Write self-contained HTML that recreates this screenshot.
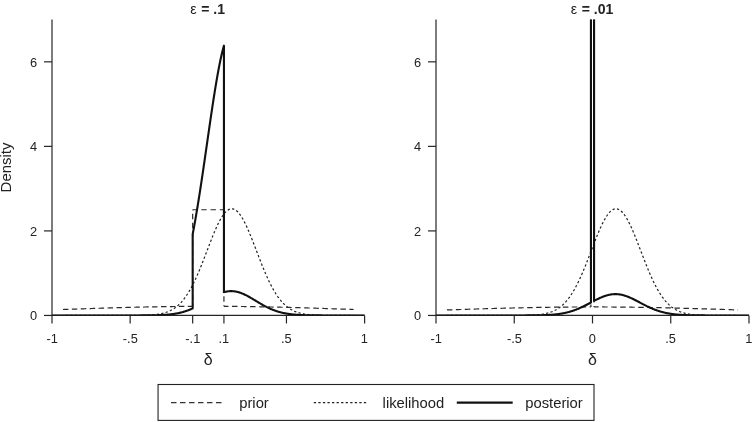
<!DOCTYPE html>
<html><head><meta charset="utf-8"><title>Density</title>
<style>html,body{margin:0;padding:0;background:#fff}svg{display:block}svg text{font-family:"Liberation Sans",sans-serif}</style></head>
<body>
<svg width="752" height="422" viewBox="0 0 752 422">
<rect width="752" height="422" fill="#fff"/>
<defs><clipPath id="c0"><rect x="0" y="19.5" width="752" height="295.95"/></clipPath></defs>
<g stroke="#262626" stroke-width="1.2" fill="none">
<path d="M52.00,19.56 V315.45"/>
<path d="M52.00,315.45 H364.60"/>
<path d="M44.00,315.45 H52.00"/>
<path d="M44.00,230.91 H52.00"/>
<path d="M44.00,146.37 H52.00"/>
<path d="M44.00,61.83 H52.00"/>
<path d="M52.00,315.45 v8"/>
<path d="M130.15,315.45 v8"/>
<path d="M192.67,315.45 v8"/>
<path d="M223.93,315.45 v8"/>
<path d="M286.45,315.45 v8"/>
<path d="M364.60,315.45 v8"/>
</g>
<g font-size="12.8" fill="#222">
<text x="37.10" y="320.30" text-anchor="end">0</text>
<text x="37.10" y="235.76" text-anchor="end">2</text>
<text x="37.10" y="151.22" text-anchor="end">4</text>
<text x="37.10" y="66.68" text-anchor="end">6</text>
<text x="52.15" y="342.7" text-anchor="middle">-1</text>
<text x="130.30" y="342.7" text-anchor="middle">-.5</text>
<text x="192.82" y="342.7" text-anchor="middle">-.1</text>
<text x="223.73" y="342.7" text-anchor="middle">.1</text>
<text x="286.25" y="342.7" text-anchor="middle">.5</text>
<text x="364.40" y="342.7" text-anchor="middle">1</text>
</g>
<text x="208.30" y="365.3" text-anchor="middle" font-size="16" fill="#222">δ</text>
<text y="13.5" fill="#222"><tspan x="190.20" font-size="14.2">ε</tspan><tspan x="201.30" font-size="14" font-weight="bold">= .1</tspan></text>
<g clip-path="url(#c0)" fill="none" stroke="#1a1a1a" stroke-linejoin="round">
<path d="M62.94,309.51 L63.43,309.49 L63.91,309.47 L64.39,309.45 L64.88,309.44 L65.36,309.42 L65.85,309.40 L66.33,309.39 L66.82,309.37 L67.30,309.35 L67.79,309.33 L68.27,309.32 L68.76,309.30 L69.24,309.28 L69.72,309.27 L70.21,309.25 L70.69,309.23 L71.18,309.22 L71.66,309.20 L72.15,309.18 L72.63,309.16 L73.12,309.15 L73.60,309.13 L74.09,309.11 L74.57,309.10 L75.05,309.08 L75.54,309.06 L76.02,309.05 L76.51,309.03 L76.99,309.01 L77.48,309.00 L77.96,308.98 L78.45,308.96 L78.93,308.95 L79.42,308.93 L79.90,308.91 L80.38,308.90 L80.87,308.88 L81.35,308.86 L81.84,308.85 L82.32,308.83 L82.81,308.81 L83.29,308.80 L83.78,308.78 L84.26,308.76 L84.74,308.75 L85.23,308.73 L85.71,308.71 L86.20,308.70 L86.68,308.68 L87.17,308.67 L87.65,308.65 L88.14,308.63 L88.62,308.62 L89.11,308.60 L89.59,308.58 L90.07,308.57 L90.56,308.55 L91.04,308.54 L91.53,308.52 L92.01,308.50 L92.50,308.49 L92.98,308.47 L93.47,308.46 L93.95,308.44 L94.44,308.42 L94.92,308.41 L95.40,308.39 L95.89,308.38 L96.37,308.36 L96.86,308.34 L97.34,308.33 L97.83,308.31 L98.31,308.30 L98.80,308.28 L99.28,308.27 L99.77,308.25 L100.25,308.24 L100.73,308.22 L101.22,308.20 L101.70,308.19 L102.19,308.17 L102.67,308.16 L103.16,308.14 L103.64,308.13 L104.13,308.11 L104.61,308.10 L105.10,308.08 L105.58,308.07 L106.06,308.05 L106.55,308.04 L107.03,308.02 L107.52,308.01 L108.00,307.99 L108.49,307.98 L108.97,307.96 L109.46,307.95 L109.94,307.93 L110.42,307.92 L110.91,307.91 L111.39,307.89 L111.88,307.88 L112.36,307.86 L112.85,307.85 L113.33,307.83 L113.82,307.82 L114.30,307.80 L114.79,307.79 L115.27,307.78 L115.75,307.76 L116.24,307.75 L116.72,307.73 L117.21,307.72 L117.69,307.71 L118.18,307.69 L118.66,307.68 L119.15,307.66 L119.63,307.65 L120.12,307.64 L120.60,307.62 L121.08,307.61 L121.57,307.60 L122.05,307.58 L122.54,307.57 L123.02,307.56 L123.51,307.54 L123.99,307.53 L124.48,307.52 L124.96,307.50 L125.45,307.49 L125.93,307.48 L126.41,307.46 L126.90,307.45 L127.38,307.44 L127.87,307.42 L128.35,307.41 L128.84,307.40 L129.32,307.39 L129.81,307.37 L130.29,307.36 L130.78,307.35 L131.26,307.34 L131.74,307.32 L132.23,307.31 L132.71,307.30 L133.20,307.29 L133.68,307.28 L134.17,307.26 L134.65,307.25 L135.14,307.24 L135.62,307.23 L136.11,307.22 L136.59,307.20 L137.07,307.19 L137.56,307.18 L138.04,307.17 L138.53,307.16 L139.01,307.15 L139.50,307.13 L139.98,307.12 L140.47,307.11 L140.95,307.10 L141.43,307.09 L141.92,307.08 L142.40,307.07 L142.89,307.06 L143.37,307.05 L143.86,307.04 L144.34,307.02 L144.83,307.01 L145.31,307.00 L145.80,306.99 L146.28,306.98 L146.76,306.97 L147.25,306.96 L147.73,306.95 L148.22,306.94 L148.70,306.93 L149.19,306.92 L149.67,306.91 L150.16,306.90 L150.64,306.89 L151.13,306.88 L151.61,306.87 L152.09,306.86 L152.58,306.85 L153.06,306.84 L153.55,306.83 L154.03,306.82 L154.52,306.82 L155.00,306.81 L155.49,306.80 L155.97,306.79 L156.46,306.78 L156.94,306.77 L157.42,306.76 L157.91,306.75 L158.39,306.74 L158.88,306.74 L159.36,306.73 L159.85,306.72 L160.33,306.71 L160.82,306.70 L161.30,306.69 L161.79,306.69 L162.27,306.68 L162.75,306.67 L163.24,306.66 L163.72,306.65 L164.21,306.65 L164.69,306.64 L165.18,306.63 L165.66,306.62 L166.15,306.62 L166.63,306.61 L167.11,306.60 L167.60,306.59 L168.08,306.59 L168.57,306.58 L169.05,306.57 L169.54,306.57 L170.02,306.56 L170.51,306.55 L170.99,306.55 L171.48,306.54 L171.96,306.53 L172.44,306.53 L172.93,306.52 L173.41,306.51 L173.90,306.51 L174.38,306.50 L174.87,306.50 L175.35,306.49 L175.84,306.48 L176.32,306.48 L176.81,306.47 L177.29,306.47 L177.77,306.46 L178.26,306.46 L178.74,306.45 L179.23,306.45 L179.71,306.44 L180.20,306.44 L180.68,306.43 L181.17,306.43 L181.65,306.42 L182.14,306.42 L182.62,306.41 L183.10,306.41 L183.59,306.40 L184.07,306.40 L184.56,306.39 L185.04,306.39 L185.53,306.39 L186.01,306.38 L186.50,306.38 L186.98,306.37 L187.47,306.37 L187.95,306.37 L188.43,306.36 L188.92,306.36 L189.40,306.36 L189.89,306.35 L190.37,306.35 L190.86,306.35 L191.34,306.34 L191.83,306.34 L192.31,306.34 L192.67,306.33" stroke-width="1.2" stroke="#2a2a2a" stroke-dasharray="5.5 3.42"/>
<path d="M192.67,306.33 L192.67,209.77" stroke-width="1.2" stroke="#2a2a2a" stroke-dasharray="5.5 3.5" stroke-dashoffset="3"/>
<path d="M192.67,209.77 L223.93,209.77" stroke-width="1.2" stroke="#2a2a2a" stroke-dasharray="5.4 3.85" stroke-dashoffset="0.65"/>
<path d="M223.93,209.77 L223.93,306.33" stroke-width="1.2" stroke="#2a2a2a" stroke-dasharray="5.5 3.5" stroke-dashoffset="3.44"/>
<path d="M223.93,306.33 L224.29,306.34 L224.77,306.34 L225.26,306.34 L225.74,306.35 L226.23,306.35 L226.71,306.35 L227.20,306.36 L227.68,306.36 L228.17,306.36 L228.65,306.37 L229.13,306.37 L229.62,306.37 L230.10,306.38 L230.59,306.38 L231.07,306.39 L231.56,306.39 L232.04,306.39 L232.53,306.40 L233.01,306.40 L233.50,306.41 L233.98,306.41 L234.46,306.42 L234.95,306.42 L235.43,306.43 L235.92,306.43 L236.40,306.44 L236.89,306.44 L237.37,306.45 L237.86,306.45 L238.34,306.46 L238.83,306.46 L239.31,306.47 L239.79,306.47 L240.28,306.48 L240.76,306.48 L241.25,306.49 L241.73,306.50 L242.22,306.50 L242.70,306.51 L243.19,306.51 L243.67,306.52 L244.16,306.53 L244.64,306.53 L245.12,306.54 L245.61,306.55 L246.09,306.55 L246.58,306.56 L247.06,306.57 L247.55,306.57 L248.03,306.58 L248.52,306.59 L249.00,306.59 L249.49,306.60 L249.97,306.61 L250.45,306.62 L250.94,306.62 L251.42,306.63 L251.91,306.64 L252.39,306.65 L252.88,306.65 L253.36,306.66 L253.85,306.67 L254.33,306.68 L254.81,306.69 L255.30,306.69 L255.78,306.70 L256.27,306.71 L256.75,306.72 L257.24,306.73 L257.72,306.74 L258.21,306.74 L258.69,306.75 L259.18,306.76 L259.66,306.77 L260.14,306.78 L260.63,306.79 L261.11,306.80 L261.60,306.81 L262.08,306.82 L262.57,306.82 L263.05,306.83 L263.54,306.84 L264.02,306.85 L264.51,306.86 L264.99,306.87 L265.47,306.88 L265.96,306.89 L266.44,306.90 L266.93,306.91 L267.41,306.92 L267.90,306.93 L268.38,306.94 L268.87,306.95 L269.35,306.96 L269.84,306.97 L270.32,306.98 L270.80,306.99 L271.29,307.00 L271.77,307.01 L272.26,307.02 L272.74,307.04 L273.23,307.05 L273.71,307.06 L274.20,307.07 L274.68,307.08 L275.17,307.09 L275.65,307.10 L276.13,307.11 L276.62,307.12 L277.10,307.13 L277.59,307.15 L278.07,307.16 L278.56,307.17 L279.04,307.18 L279.53,307.19 L280.01,307.20 L280.49,307.22 L280.98,307.23 L281.46,307.24 L281.95,307.25 L282.43,307.26 L282.92,307.28 L283.40,307.29 L283.89,307.30 L284.37,307.31 L284.86,307.32 L285.34,307.34 L285.82,307.35 L286.31,307.36 L286.79,307.37 L287.28,307.39 L287.76,307.40 L288.25,307.41 L288.73,307.42 L289.22,307.44 L289.70,307.45 L290.19,307.46 L290.67,307.48 L291.15,307.49 L291.64,307.50 L292.12,307.52 L292.61,307.53 L293.09,307.54 L293.58,307.56 L294.06,307.57 L294.55,307.58 L295.03,307.60 L295.52,307.61 L296.00,307.62 L296.48,307.64 L296.97,307.65 L297.45,307.66 L297.94,307.68 L298.42,307.69 L298.91,307.71 L299.39,307.72 L299.88,307.73 L300.36,307.75 L300.85,307.76 L301.33,307.78 L301.81,307.79 L302.30,307.80 L302.78,307.82 L303.27,307.83 L303.75,307.85 L304.24,307.86 L304.72,307.88 L305.21,307.89 L305.69,307.91 L306.18,307.92 L306.66,307.93 L307.14,307.95 L307.63,307.96 L308.11,307.98 L308.60,307.99 L309.08,308.01 L309.57,308.02 L310.05,308.04 L310.54,308.05 L311.02,308.07 L311.50,308.08 L311.99,308.10 L312.47,308.11 L312.96,308.13 L313.44,308.14 L313.93,308.16 L314.41,308.17 L314.90,308.19 L315.38,308.20 L315.87,308.22 L316.35,308.24 L316.83,308.25 L317.32,308.27 L317.80,308.28 L318.29,308.30 L318.77,308.31 L319.26,308.33 L319.74,308.34 L320.23,308.36 L320.71,308.38 L321.20,308.39 L321.68,308.41 L322.16,308.42 L322.65,308.44 L323.13,308.46 L323.62,308.47 L324.10,308.49 L324.59,308.50 L325.07,308.52 L325.56,308.54 L326.04,308.55 L326.53,308.57 L327.01,308.58 L327.49,308.60 L327.98,308.62 L328.46,308.63 L328.95,308.65 L329.43,308.67 L329.92,308.68 L330.40,308.70 L330.89,308.71 L331.37,308.73 L331.86,308.75 L332.34,308.76 L332.82,308.78 L333.31,308.80 L333.79,308.81 L334.28,308.83 L334.76,308.85 L335.25,308.86 L335.73,308.88 L336.22,308.90 L336.70,308.91 L337.18,308.93 L337.67,308.95 L338.15,308.96 L338.64,308.98 L339.12,309.00 L339.61,309.01 L340.09,309.03 L340.58,309.05 L341.06,309.06 L341.55,309.08 L342.03,309.10 L342.51,309.11 L343.00,309.13 L343.48,309.15 L343.97,309.16 L344.45,309.18 L344.94,309.20 L345.42,309.22 L345.91,309.23 L346.39,309.25 L346.88,309.27 L347.36,309.28 L347.84,309.30 L348.33,309.32 L348.81,309.33 L349.30,309.35 L349.78,309.37 L350.27,309.39 L350.75,309.40 L351.24,309.42 L351.72,309.44 L352.21,309.45 L352.69,309.47 L353.17,309.49 L353.66,309.51" stroke-width="1.2" stroke="#2a2a2a" stroke-dasharray="5.5 3.54" stroke-dashoffset="1.0"/>
<path d="M62.94,315.45 L63.43,315.45 L63.91,315.45 L64.39,315.45 L64.88,315.45 L65.36,315.45 L65.85,315.45 L66.33,315.45 L66.82,315.45 L67.30,315.45 L67.79,315.45 L68.27,315.45 L68.76,315.45 L69.24,315.45 L69.72,315.45 L70.21,315.45 L70.69,315.45 L71.18,315.45 L71.66,315.45 L72.15,315.45 L72.63,315.45 L73.12,315.45 L73.60,315.45 L74.09,315.45 L74.57,315.45 L75.05,315.45 L75.54,315.45 L76.02,315.45 L76.51,315.45 L76.99,315.45 L77.48,315.45 L77.96,315.45 L78.45,315.45 L78.93,315.45 L79.42,315.45 L79.90,315.45 L80.38,315.45 L80.87,315.45 L81.35,315.45 L81.84,315.45 L82.32,315.45 L82.81,315.45 L83.29,315.45 L83.78,315.45 L84.26,315.45 L84.74,315.45 L85.23,315.45 L85.71,315.45 L86.20,315.45 L86.68,315.45 L87.17,315.45 L87.65,315.45 L88.14,315.45 L88.62,315.45 L89.11,315.45 L89.59,315.45 L90.07,315.45 L90.56,315.45 L91.04,315.45 L91.53,315.45 L92.01,315.45 L92.50,315.45 L92.98,315.45 L93.47,315.45 L93.95,315.45 L94.44,315.45 L94.92,315.45 L95.40,315.45 L95.89,315.45 L96.37,315.45 L96.86,315.45 L97.34,315.45 L97.83,315.45 L98.31,315.45 L98.80,315.45 L99.28,315.45 L99.77,315.45 L100.25,315.45 L100.73,315.45 L101.22,315.45 L101.70,315.45 L102.19,315.45 L102.67,315.45 L103.16,315.45 L103.64,315.45 L104.13,315.45 L104.61,315.45 L105.10,315.45 L105.58,315.45 L106.06,315.45 L106.55,315.45 L107.03,315.45 L107.52,315.45 L108.00,315.45 L108.49,315.45 L108.97,315.45 L109.46,315.45 L109.94,315.45 L110.42,315.45 L110.91,315.45 L111.39,315.45 L111.88,315.45 L112.36,315.45 L112.85,315.45 L113.33,315.45 L113.82,315.45 L114.30,315.45 L114.79,315.45 L115.27,315.45 L115.75,315.45 L116.24,315.45 L116.72,315.45 L117.21,315.45 L117.69,315.45 L118.18,315.45 L118.66,315.45 L119.15,315.45 L119.63,315.45 L120.12,315.45 L120.60,315.45 L121.08,315.45 L121.57,315.44 L122.05,315.44 L122.54,315.44 L123.02,315.44 L123.51,315.44 L123.99,315.44 L124.48,315.44 L124.96,315.44 L125.45,315.44 L125.93,315.44 L126.41,315.44 L126.90,315.44 L127.38,315.44 L127.87,315.43 L128.35,315.43 L128.84,315.43 L129.32,315.43 L129.81,315.43 L130.29,315.43 L130.78,315.42 L131.26,315.42 L131.74,315.42 L132.23,315.42 L132.71,315.42 L133.20,315.41 L133.68,315.41 L134.17,315.41 L134.65,315.40 L135.14,315.40 L135.62,315.39 L136.11,315.39 L136.59,315.39 L137.07,315.38 L137.56,315.38 L138.04,315.37 L138.53,315.36 L139.01,315.36 L139.50,315.35 L139.98,315.34 L140.47,315.33 L140.95,315.32 L141.43,315.32 L141.92,315.31 L142.40,315.30 L142.89,315.28 L143.37,315.27 L143.86,315.26 L144.34,315.24 L144.83,315.23 L145.31,315.21 L145.80,315.20 L146.28,315.18 L146.76,315.16 L147.25,315.14 L147.73,315.12 L148.22,315.10 L148.70,315.07 L149.19,315.05 L149.67,315.02 L150.16,314.99 L150.64,314.96 L151.13,314.93 L151.61,314.89 L152.09,314.86 L152.58,314.82 L153.06,314.78 L153.55,314.74 L154.03,314.69 L154.52,314.64 L155.00,314.59 L155.49,314.54 L155.97,314.48 L156.46,314.42 L156.94,314.36 L157.42,314.29 L157.91,314.22 L158.39,314.15 L158.88,314.07 L159.36,313.99 L159.85,313.90 L160.33,313.81 L160.82,313.72 L161.30,313.62 L161.79,313.51 L162.27,313.40 L162.75,313.28 L163.24,313.16 L163.72,313.04 L164.21,312.90 L164.69,312.76 L165.18,312.62 L165.66,312.46 L166.15,312.30 L166.63,312.13 L167.11,311.96 L167.60,311.78 L168.08,311.59 L168.57,311.39 L169.05,311.18 L169.54,310.96 L170.02,310.74 L170.51,310.50 L170.99,310.25 L171.48,310.00 L171.96,309.73 L172.44,309.46 L172.93,309.17 L173.41,308.87 L173.90,308.56 L174.38,308.24 L174.87,307.90 L175.35,307.56 L175.84,307.20 L176.32,306.82 L176.81,306.44 L177.29,306.04 L177.77,305.62 L178.26,305.20 L178.74,304.75 L179.23,304.30 L179.71,303.83 L180.20,303.34 L180.68,302.83 L181.17,302.32 L181.65,301.78 L182.14,301.23 L182.62,300.66 L183.10,300.08 L183.59,299.47 L184.07,298.86 L184.56,298.22 L185.04,297.57 L185.53,296.89 L186.01,296.20 L186.50,295.50 L186.98,294.77 L187.47,294.03 L187.95,293.27 L188.43,292.49 L188.92,291.69 L189.40,290.87 L189.89,290.04 L190.37,289.18 L190.86,288.31 L191.34,287.42 L191.83,286.52 L192.31,285.59 L192.80,284.65 L193.28,283.69 L193.76,282.71 L194.25,281.71 L194.73,280.70 L195.22,279.67 L195.70,278.63 L196.19,277.57 L196.67,276.49 L197.16,275.40 L197.64,274.29 L198.12,273.17 L198.61,272.04 L199.09,270.89 L199.58,269.73 L200.06,268.56 L200.55,267.37 L201.03,266.18 L201.52,264.97 L202.00,263.76 L202.49,262.53 L202.97,261.30 L203.45,260.06 L203.94,258.82 L204.42,257.56 L204.91,256.31 L205.39,255.05 L205.88,253.78 L206.36,252.51 L206.85,251.25 L207.33,249.98 L207.82,248.71 L208.30,247.45 L208.78,246.18 L209.27,244.92 L209.75,243.67 L210.24,242.42 L210.72,241.18 L211.21,239.94 L211.69,238.71 L212.18,237.50 L212.66,236.29 L213.15,235.10 L213.63,233.92 L214.11,232.76 L214.60,231.61 L215.08,230.48 L215.57,229.37 L216.05,228.27 L216.54,227.19 L217.02,226.14 L217.51,225.11 L217.99,224.10 L218.48,223.12 L218.96,222.16 L219.44,221.22 L219.93,220.32 L220.41,219.44 L220.90,218.59 L221.38,217.77 L221.87,216.99 L222.35,216.23 L222.84,215.51 L223.32,214.82 L223.80,214.16 L224.29,213.54 L224.77,212.96 L225.26,212.41 L225.74,211.90 L226.23,211.42 L226.71,210.99 L227.20,210.59 L227.68,210.23 L228.17,209.91 L228.65,209.63 L229.13,209.39 L229.62,209.19 L230.10,209.03 L230.59,208.91 L231.07,208.84 L231.56,208.80 L232.04,208.80 L232.53,208.85 L233.01,208.94 L233.50,209.06 L233.98,209.23 L234.46,209.44 L234.95,209.69 L235.43,209.98 L235.92,210.31 L236.40,210.67 L236.89,211.08 L237.37,211.53 L237.86,212.01 L238.34,212.53 L238.83,213.09 L239.31,213.68 L239.79,214.31 L240.28,214.97 L240.76,215.67 L241.25,216.40 L241.73,217.16 L242.22,217.96 L242.70,218.78 L243.19,219.64 L243.67,220.52 L244.16,221.43 L244.64,222.37 L245.12,223.34 L245.61,224.33 L246.09,225.34 L246.58,226.38 L247.06,227.44 L247.55,228.52 L248.03,229.62 L248.52,230.73 L249.00,231.87 L249.49,233.02 L249.97,234.19 L250.45,235.37 L250.94,236.57 L251.42,237.77 L251.91,238.99 L252.39,240.22 L252.88,241.45 L253.36,242.70 L253.85,243.95 L254.33,245.21 L254.81,246.47 L255.30,247.73 L255.78,249.00 L256.27,250.27 L256.75,251.53 L257.24,252.80 L257.72,254.07 L258.21,255.33 L258.69,256.59 L259.18,257.85 L259.66,259.10 L260.14,260.34 L260.63,261.58 L261.11,262.81 L261.60,264.03 L262.08,265.25 L262.57,266.45 L263.05,267.64 L263.54,268.82 L264.02,269.99 L264.51,271.15 L264.99,272.30 L265.47,273.43 L265.96,274.55 L266.44,275.65 L266.93,276.74 L267.41,277.81 L267.90,278.87 L268.38,279.91 L268.87,280.93 L269.35,281.94 L269.84,282.93 L270.32,283.91 L270.80,284.86 L271.29,285.80 L271.77,286.72 L272.26,287.63 L272.74,288.51 L273.23,289.38 L273.71,290.23 L274.20,291.06 L274.68,291.87 L275.17,292.66 L275.65,293.44 L276.13,294.20 L276.62,294.94 L277.10,295.66 L277.59,296.36 L278.07,297.05 L278.56,297.71 L279.04,298.36 L279.53,299.00 L280.01,299.61 L280.49,300.21 L280.98,300.79 L281.46,301.35 L281.95,301.90 L282.43,302.43 L282.92,302.95 L283.40,303.45 L283.89,303.93 L284.37,304.40 L284.86,304.86 L285.34,305.29 L285.82,305.72 L286.31,306.13 L286.79,306.53 L287.28,306.91 L287.76,307.28 L288.25,307.64 L288.73,307.98 L289.22,308.31 L289.70,308.63 L290.19,308.94 L290.67,309.23 L291.15,309.52 L291.64,309.79 L292.12,310.06 L292.61,310.31 L293.09,310.55 L293.58,310.79 L294.06,311.01 L294.55,311.23 L295.03,311.43 L295.52,311.63 L296.00,311.82 L296.48,312.00 L296.97,312.17 L297.45,312.34 L297.94,312.50 L298.42,312.65 L298.91,312.79 L299.39,312.93 L299.88,313.06 L300.36,313.19 L300.85,313.31 L301.33,313.43 L301.81,313.53 L302.30,313.64 L302.78,313.74 L303.27,313.83 L303.75,313.92 L304.24,314.01 L304.72,314.09 L305.21,314.16 L305.69,314.24 L306.18,314.31 L306.66,314.37 L307.14,314.43 L307.63,314.49 L308.11,314.55 L308.60,314.60 L309.08,314.65 L309.57,314.70 L310.05,314.75 L310.54,314.79 L311.02,314.83 L311.50,314.87 L311.99,314.90 L312.47,314.94 L312.96,314.97 L313.44,315.00 L313.93,315.03 L314.41,315.05 L314.90,315.08 L315.38,315.10 L315.87,315.12 L316.35,315.15 L316.83,315.17 L317.32,315.18 L317.80,315.20 L318.29,315.22 L318.77,315.23 L319.26,315.25 L319.74,315.26 L320.23,315.27 L320.71,315.29 L321.20,315.30 L321.68,315.31 L322.16,315.32 L322.65,315.33 L323.13,315.34 L323.62,315.34 L324.10,315.35 L324.59,315.36 L325.07,315.36 L325.56,315.37 L326.04,315.38 L326.53,315.38 L327.01,315.39 L327.49,315.39 L327.98,315.40 L328.46,315.40 L328.95,315.40 L329.43,315.41 L329.92,315.41 L330.40,315.41 L330.89,315.42 L331.37,315.42 L331.86,315.42 L332.34,315.42 L332.82,315.43 L333.31,315.43 L333.79,315.43 L334.28,315.43 L334.76,315.43 L335.25,315.43 L335.73,315.43 L336.22,315.44 L336.70,315.44 L337.18,315.44 L337.67,315.44 L338.15,315.44 L338.64,315.44 L339.12,315.44 L339.61,315.44 L340.09,315.44 L340.58,315.44 L341.06,315.44 L341.55,315.44 L342.03,315.44 L342.51,315.45 L343.00,315.45 L343.48,315.45 L343.97,315.45 L344.45,315.45 L344.94,315.45 L345.42,315.45 L345.91,315.45 L346.39,315.45 L346.88,315.45 L347.36,315.45 L347.84,315.45 L348.33,315.45 L348.81,315.45 L349.30,315.45 L349.78,315.45 L350.27,315.45 L350.75,315.45 L351.24,315.45 L351.72,315.45 L352.21,315.45 L352.69,315.45 L353.17,315.45 L353.66,315.45" stroke-width="1.2" stroke-dasharray="2.3 2.25" stroke-dashoffset="1.75" stroke="#222"/>
<path d="M52.00,315.45 L52.49,315.45 L52.98,315.45 L53.47,315.45 L53.95,315.45 L54.44,315.45 L54.93,315.45 L55.42,315.45 L55.91,315.45 L56.40,315.45 L56.88,315.45 L57.37,315.45 L57.86,315.45 L58.35,315.45 L58.84,315.45 L59.33,315.45 L59.81,315.45 L60.30,315.45 L60.79,315.45 L61.28,315.45 L61.77,315.45 L62.26,315.45 L62.75,315.45 L63.23,315.45 L63.72,315.45 L64.21,315.45 L64.70,315.45 L65.19,315.45 L65.68,315.45 L66.16,315.45 L66.65,315.45 L67.14,315.45 L67.63,315.45 L68.12,315.45 L68.61,315.45 L69.10,315.45 L69.58,315.45 L70.07,315.45 L70.56,315.45 L71.05,315.45 L71.54,315.45 L72.03,315.45 L72.51,315.45 L73.00,315.45 L73.49,315.45 L73.98,315.45 L74.47,315.45 L74.96,315.45 L75.44,315.45 L75.93,315.45 L76.42,315.45 L76.91,315.45 L77.40,315.45 L77.89,315.45 L78.38,315.45 L78.86,315.45 L79.35,315.45 L79.84,315.45 L80.33,315.45 L80.82,315.45 L81.31,315.45 L81.79,315.45 L82.28,315.45 L82.77,315.45 L83.26,315.45 L83.75,315.45 L84.24,315.45 L84.73,315.45 L85.21,315.45 L85.70,315.45 L86.19,315.45 L86.68,315.45 L87.17,315.45 L87.66,315.45 L88.14,315.45 L88.63,315.45 L89.12,315.45 L89.61,315.45 L90.10,315.45 L90.59,315.45 L91.08,315.45 L91.56,315.45 L92.05,315.45 L92.54,315.45 L93.03,315.45 L93.52,315.45 L94.01,315.45 L94.49,315.45 L94.98,315.45 L95.47,315.45 L95.96,315.45 L96.45,315.45 L96.94,315.45 L97.42,315.45 L97.91,315.45 L98.40,315.45 L98.89,315.45 L99.38,315.45 L99.87,315.45 L100.36,315.45 L100.84,315.45 L101.33,315.45 L101.82,315.45 L102.31,315.45 L102.80,315.45 L103.29,315.45 L103.77,315.45 L104.26,315.45 L104.75,315.45 L105.24,315.45 L105.73,315.45 L106.22,315.45 L106.71,315.45 L107.19,315.45 L107.68,315.45 L108.17,315.45 L108.66,315.45 L109.15,315.45 L109.64,315.45 L110.12,315.45 L110.61,315.45 L111.10,315.45 L111.59,315.45 L112.08,315.45 L112.57,315.45 L113.05,315.45 L113.54,315.45 L114.03,315.45 L114.52,315.45 L115.01,315.45 L115.50,315.45 L115.99,315.45 L116.47,315.45 L116.96,315.45 L117.45,315.45 L117.94,315.45 L118.43,315.45 L118.92,315.45 L119.40,315.45 L119.89,315.45 L120.38,315.45 L120.87,315.45 L121.36,315.45 L121.85,315.45 L122.33,315.45 L122.82,315.45 L123.31,315.45 L123.80,315.45 L124.29,315.45 L124.78,315.45 L125.27,315.45 L125.75,315.45 L126.24,315.45 L126.73,315.45 L127.22,315.45 L127.71,315.45 L128.20,315.45 L128.68,315.45 L129.17,315.45 L129.66,315.45 L130.15,315.45 L130.64,315.44 L131.13,315.44 L131.62,315.44 L132.10,315.44 L132.59,315.44 L133.08,315.44 L133.57,315.44 L134.06,315.44 L134.55,315.44 L135.03,315.44 L135.52,315.44 L136.01,315.44 L136.50,315.44 L136.99,315.44 L137.48,315.43 L137.97,315.43 L138.45,315.43 L138.94,315.43 L139.43,315.43 L139.92,315.43 L140.41,315.43 L140.90,315.42 L141.38,315.42 L141.87,315.42 L142.36,315.42 L142.85,315.42 L143.34,315.41 L143.83,315.41 L144.31,315.41 L144.80,315.40 L145.29,315.40 L145.78,315.40 L146.27,315.39 L146.76,315.39 L147.25,315.38 L147.73,315.38 L148.22,315.37 L148.71,315.37 L149.20,315.36 L149.69,315.36 L150.18,315.35 L150.66,315.34 L151.15,315.34 L151.64,315.33 L152.13,315.32 L152.62,315.31 L153.11,315.30 L153.60,315.29 L154.08,315.28 L154.57,315.27 L155.06,315.26 L155.55,315.25 L156.04,315.24 L156.53,315.22 L157.01,315.21 L157.50,315.19 L157.99,315.18 L158.48,315.16 L158.97,315.14 L159.46,315.13 L159.94,315.11 L160.43,315.09 L160.92,315.06 L161.41,315.04 L161.90,315.02 L162.39,314.99 L162.88,314.96 L163.36,314.94 L163.85,314.91 L164.34,314.88 L164.83,314.84 L165.32,314.81 L165.81,314.78 L166.29,314.74 L166.78,314.70 L167.27,314.66 L167.76,314.62 L168.25,314.57 L168.74,314.53 L169.23,314.48 L169.71,314.43 L170.20,314.38 L170.69,314.32 L171.18,314.26 L171.67,314.20 L172.16,314.14 L172.64,314.08 L173.13,314.01 L173.62,313.94 L174.11,313.87 L174.60,313.79 L175.09,313.71 L175.57,313.63 L176.06,313.55 L176.55,313.46 L177.04,313.37 L177.53,313.28 L178.02,313.18 L178.51,313.08 L178.99,312.97 L179.48,312.87 L179.97,312.76 L180.46,312.64 L180.95,312.52 L181.44,312.40 L181.92,312.27 L182.41,312.14 L182.90,312.01 L183.39,311.87 L183.88,311.73 L184.37,311.58 L184.86,311.43 L185.34,311.28 L185.83,311.12 L186.32,310.95 L186.81,310.79 L187.30,310.62 L187.79,310.44 L188.27,310.26 L188.76,310.07 L189.25,309.89 L189.74,309.69 L190.23,309.49 L190.72,309.29 L191.20,309.09 L191.69,308.88 L192.18,308.66 L192.67,308.44 L192.67,234.20 L192.67,234.20 L192.83,233.38 L192.98,232.56 L193.14,231.74 L193.30,230.91 L193.45,230.08 L193.61,229.24 L193.76,228.39 L193.92,227.54 L194.08,226.69 L194.23,225.83 L194.39,224.97 L194.55,224.10 L194.70,223.23 L194.86,222.36 L195.01,221.47 L195.17,220.59 L195.33,219.70 L195.48,218.80 L195.64,217.90 L195.80,217.00 L195.95,216.09 L196.11,215.18 L196.26,214.26 L196.42,213.34 L196.58,212.42 L196.73,211.49 L196.89,210.56 L197.05,209.62 L197.20,208.68 L197.36,207.73 L197.52,206.78 L197.67,205.83 L197.83,204.87 L197.98,203.91 L198.14,202.94 L198.30,201.97 L198.45,201.00 L198.61,200.02 L198.77,199.04 L198.92,198.06 L199.08,197.07 L199.23,196.08 L199.39,195.08 L199.55,194.08 L199.70,193.08 L199.86,192.08 L200.02,191.07 L200.17,190.06 L200.33,189.04 L200.49,188.02 L200.64,187.00 L200.80,185.98 L200.95,184.95 L201.11,183.92 L201.27,182.89 L201.42,181.85 L201.58,180.82 L201.74,179.78 L201.89,178.73 L202.05,177.69 L202.20,176.64 L202.36,175.59 L202.52,174.54 L202.67,173.48 L202.83,172.42 L202.99,171.36 L203.14,170.30 L203.30,169.24 L203.45,168.17 L203.61,167.11 L203.77,166.04 L203.92,164.97 L204.08,163.89 L204.24,162.82 L204.39,161.74 L204.55,160.67 L204.71,159.59 L204.86,158.51 L205.02,157.43 L205.17,156.35 L205.33,155.27 L205.49,154.18 L205.64,153.10 L205.80,152.01 L205.96,150.93 L206.11,149.84 L206.27,148.76 L206.42,147.67 L206.58,146.58 L206.74,145.49 L206.89,144.41 L207.05,143.32 L207.21,142.23 L207.36,141.14 L207.52,140.06 L207.67,138.97 L207.83,137.88 L207.99,136.79 L208.14,135.71 L208.30,134.62 L208.46,133.54 L208.61,132.46 L208.77,131.37 L208.93,130.29 L209.08,129.21 L209.24,128.13 L209.39,127.05 L209.55,125.98 L209.71,124.90 L209.86,123.83 L210.02,122.75 L210.18,121.68 L210.33,120.61 L210.49,119.55 L210.64,118.48 L210.80,117.42 L210.96,116.36 L211.11,115.30 L211.27,114.25 L211.43,113.19 L211.58,112.14 L211.74,111.10 L211.89,110.05 L212.05,109.01 L212.21,107.97 L212.36,106.93 L212.52,105.90 L212.68,104.87 L212.83,103.85 L212.99,102.82 L213.15,101.80 L213.30,100.79 L213.46,99.78 L213.61,98.77 L213.77,97.77 L213.93,96.77 L214.08,95.77 L214.24,94.78 L214.40,93.80 L214.55,92.81 L214.71,91.84 L214.86,90.86 L215.02,89.90 L215.18,88.93 L215.33,87.98 L215.49,87.02 L215.65,86.08 L215.80,85.13 L215.96,84.20 L216.12,83.26 L216.27,82.34 L216.43,81.42 L216.58,80.50 L216.74,79.60 L216.90,78.69 L217.05,77.80 L217.21,76.91 L217.37,76.02 L217.52,75.14 L217.68,74.27 L217.83,73.41 L217.99,72.55 L218.15,71.70 L218.30,70.85 L218.46,70.01 L218.62,69.18 L218.77,68.36 L218.93,67.54 L219.08,66.73 L219.24,65.93 L219.40,65.14 L219.55,64.35 L219.71,63.57 L219.87,62.80 L220.02,62.03 L220.18,61.28 L220.34,60.53 L220.49,59.79 L220.65,59.06 L220.80,58.33 L220.96,57.62 L221.12,56.91 L221.27,56.21 L221.43,55.52 L221.59,54.84 L221.74,54.16 L221.90,53.50 L222.05,52.84 L222.21,52.20 L222.37,51.56 L222.52,50.93 L222.68,50.31 L222.84,49.70 L222.99,49.10 L223.15,48.51 L223.30,47.92 L223.46,47.35 L223.62,46.79 L223.77,46.23 L223.93,45.69 L223.93,45.69 L223.93,292.18 L223.93,292.18 L224.42,292.05 L224.91,291.92 L225.40,291.80 L225.88,291.70 L226.37,291.60 L226.86,291.51 L227.35,291.43 L227.84,291.36 L228.33,291.30 L228.81,291.25 L229.30,291.20 L229.79,291.17 L230.28,291.15 L230.77,291.14 L231.26,291.13 L231.75,291.14 L232.23,291.16 L232.72,291.18 L233.21,291.22 L233.70,291.26 L234.19,291.32 L234.68,291.38 L235.16,291.46 L235.65,291.54 L236.14,291.63 L236.63,291.73 L237.12,291.84 L237.61,291.96 L238.09,292.09 L238.58,292.23 L239.07,292.37 L239.56,292.53 L240.05,292.69 L240.54,292.86 L241.03,293.03 L241.51,293.22 L242.00,293.41 L242.49,293.61 L242.98,293.82 L243.47,294.03 L243.96,294.25 L244.44,294.47 L244.93,294.70 L245.42,294.94 L245.91,295.18 L246.40,295.43 L246.89,295.68 L247.38,295.94 L247.86,296.20 L248.35,296.47 L248.84,296.74 L249.33,297.01 L249.82,297.28 L250.31,297.56 L250.79,297.85 L251.28,298.13 L251.77,298.42 L252.26,298.71 L252.75,299.00 L253.24,299.29 L253.72,299.58 L254.21,299.87 L254.70,300.17 L255.19,300.46 L255.68,300.76 L256.17,301.05 L256.66,301.35 L257.14,301.64 L257.63,301.94 L258.12,302.23 L258.61,302.52 L259.10,302.81 L259.59,303.10 L260.07,303.39 L260.56,303.67 L261.05,303.95 L261.54,304.23 L262.03,304.51 L262.52,304.79 L263.01,305.06 L263.49,305.33 L263.98,305.60 L264.47,305.86 L264.96,306.12 L265.45,306.38 L265.94,306.63 L266.42,306.88 L266.91,307.12 L267.40,307.37 L267.89,307.60 L268.38,307.84 L268.87,308.07 L269.35,308.29 L269.84,308.52 L270.33,308.73 L270.82,308.95 L271.31,309.16 L271.80,309.36 L272.29,309.56 L272.77,309.76 L273.26,309.95 L273.75,310.14 L274.24,310.32 L274.73,310.50 L275.22,310.67 L275.70,310.84 L276.19,311.01 L276.68,311.17 L277.17,311.33 L277.66,311.48 L278.15,311.63 L278.64,311.78 L279.12,311.92 L279.61,312.05 L280.10,312.19 L280.59,312.32 L281.08,312.44 L281.57,312.56 L282.05,312.68 L282.54,312.79 L283.03,312.90 L283.52,313.01 L284.01,313.11 L284.50,313.21 L284.98,313.31 L285.47,313.40 L285.96,313.49 L286.45,313.58 L286.94,313.66 L287.43,313.74 L287.92,313.82 L288.40,313.89 L288.89,313.96 L289.38,314.03 L289.87,314.10 L290.36,314.16 L290.85,314.22 L291.33,314.28 L291.82,314.34 L292.31,314.39 L292.80,314.45 L293.29,314.50 L293.78,314.54 L294.27,314.59 L294.75,314.63 L295.24,314.67 L295.73,314.71 L296.22,314.75 L296.71,314.79 L297.20,314.82 L297.68,314.86 L298.17,314.89 L298.66,314.92 L299.15,314.95 L299.64,314.97 L300.13,315.00 L300.61,315.02 L301.10,315.05 L301.59,315.07 L302.08,315.09 L302.57,315.11 L303.06,315.13 L303.55,315.15 L304.03,315.17 L304.52,315.18 L305.01,315.20 L305.50,315.21 L305.99,315.23 L306.48,315.24 L306.96,315.25 L307.45,315.27 L307.94,315.28 L308.43,315.29 L308.92,315.30 L309.41,315.31 L309.90,315.32 L310.38,315.32 L310.87,315.33 L311.36,315.34 L311.85,315.35 L312.34,315.35 L312.83,315.36 L313.31,315.37 L313.80,315.37 L314.29,315.38 L314.78,315.38 L315.27,315.39 L315.76,315.39 L316.24,315.39 L316.73,315.40 L317.22,315.40 L317.71,315.40 L318.20,315.41 L318.69,315.41 L319.18,315.41 L319.66,315.42 L320.15,315.42 L320.64,315.42 L321.13,315.42 L321.62,315.42 L322.11,315.43 L322.59,315.43 L323.08,315.43 L323.57,315.43 L324.06,315.43 L324.55,315.43 L325.04,315.44 L325.53,315.44 L326.01,315.44 L326.50,315.44 L326.99,315.44 L327.48,315.44 L327.97,315.44 L328.46,315.44 L328.94,315.44 L329.43,315.44 L329.92,315.44 L330.41,315.44 L330.90,315.44 L331.39,315.44 L331.87,315.45 L332.36,315.45 L332.85,315.45 L333.34,315.45 L333.83,315.45 L334.32,315.45 L334.81,315.45 L335.29,315.45 L335.78,315.45 L336.27,315.45 L336.76,315.45 L337.25,315.45 L337.74,315.45 L338.22,315.45 L338.71,315.45 L339.20,315.45 L339.69,315.45 L340.18,315.45 L340.67,315.45 L341.16,315.45 L341.64,315.45 L342.13,315.45 L342.62,315.45 L343.11,315.45 L343.60,315.45 L344.09,315.45 L344.57,315.45 L345.06,315.45 L345.55,315.45 L346.04,315.45 L346.53,315.45 L347.02,315.45 L347.50,315.45 L347.99,315.45 L348.48,315.45 L348.97,315.45 L349.46,315.45 L349.95,315.45 L350.44,315.45 L350.92,315.45 L351.41,315.45 L351.90,315.45 L352.39,315.45 L352.88,315.45 L353.37,315.45 L353.85,315.45 L354.34,315.45 L354.83,315.45 L355.32,315.45 L355.81,315.45 L356.30,315.45 L356.79,315.45 L357.27,315.45 L357.76,315.45 L358.25,315.45 L358.74,315.45 L359.23,315.45 L359.72,315.45 L360.20,315.45 L360.69,315.45 L361.18,315.45 L361.67,315.45 L362.16,315.45 L362.65,315.45 L363.13,315.45 L363.62,315.45 L364.11,315.45 L364.60,315.45" stroke-width="2.1" stroke="#111" stroke-linejoin="round"/>
</g>
<g stroke="#262626" stroke-width="1.2" fill="none">
<path d="M436.00,19.56 V315.45"/>
<path d="M436.00,315.45 H749.00"/>
<path d="M428.00,315.45 H436.00"/>
<path d="M428.00,230.91 H436.00"/>
<path d="M428.00,146.37 H436.00"/>
<path d="M428.00,61.83 H436.00"/>
<path d="M436.00,315.45 v8"/>
<path d="M514.25,315.45 v8"/>
<path d="M592.50,315.45 v8"/>
<path d="M670.75,315.45 v8"/>
<path d="M749.00,315.45 v8"/>
</g>
<g font-size="12.8" fill="#222">
<text x="421.10" y="320.30" text-anchor="end">0</text>
<text x="421.10" y="235.76" text-anchor="end">2</text>
<text x="421.10" y="151.22" text-anchor="end">4</text>
<text x="421.10" y="66.68" text-anchor="end">6</text>
<text x="436.15" y="342.7" text-anchor="middle">-1</text>
<text x="514.40" y="342.7" text-anchor="middle">-.5</text>
<text x="592.30" y="342.7" text-anchor="middle">0</text>
<text x="670.55" y="342.7" text-anchor="middle">.5</text>
<text x="748.80" y="342.7" text-anchor="middle">1</text>
</g>
<text x="592.50" y="365.3" text-anchor="middle" font-size="16" fill="#222">δ</text>
<text y="13.5" fill="#222"><tspan x="570.70" font-size="14.2">ε</tspan><tspan x="581.80" font-size="14" font-weight="bold">= .01</tspan></text>
<g clip-path="url(#c0)" fill="none" stroke="#1a1a1a" stroke-linejoin="round">
<path d="M446.95,309.93 L447.44,309.92 L447.93,309.90 L448.41,309.89 L448.90,309.87 L449.38,309.86 L449.87,309.84 L450.35,309.82 L450.84,309.81 L451.32,309.79 L451.81,309.78 L452.29,309.76 L452.78,309.74 L453.26,309.73 L453.75,309.71 L454.23,309.70 L454.72,309.68 L455.20,309.67 L455.69,309.65 L456.17,309.63 L456.66,309.62 L457.14,309.60 L457.63,309.59 L458.11,309.57 L458.60,309.56 L459.08,309.54 L459.57,309.52 L460.05,309.51 L460.54,309.49 L461.02,309.48 L461.51,309.46 L461.99,309.45 L462.48,309.43 L462.96,309.42 L463.45,309.40 L463.94,309.38 L464.42,309.37 L464.91,309.35 L465.39,309.34 L465.88,309.32 L466.36,309.31 L466.85,309.29 L467.33,309.28 L467.82,309.26 L468.30,309.25 L468.79,309.23 L469.27,309.22 L469.76,309.20 L470.24,309.19 L470.73,309.17 L471.21,309.16 L471.70,309.14 L472.18,309.13 L472.67,309.11 L473.15,309.10 L473.64,309.08 L474.12,309.07 L474.61,309.05 L475.09,309.04 L475.58,309.02 L476.06,309.01 L476.55,308.99 L477.03,308.98 L477.52,308.96 L478.00,308.95 L478.49,308.93 L478.97,308.92 L479.46,308.90 L479.95,308.89 L480.43,308.87 L480.92,308.86 L481.40,308.84 L481.89,308.83 L482.37,308.81 L482.86,308.80 L483.34,308.79 L483.83,308.77 L484.31,308.76 L484.80,308.74 L485.28,308.73 L485.77,308.71 L486.25,308.70 L486.74,308.69 L487.22,308.67 L487.71,308.66 L488.19,308.64 L488.68,308.63 L489.16,308.62 L489.65,308.60 L490.13,308.59 L490.62,308.57 L491.10,308.56 L491.59,308.55 L492.07,308.53 L492.56,308.52 L493.04,308.50 L493.53,308.49 L494.01,308.48 L494.50,308.46 L494.98,308.45 L495.47,308.44 L495.96,308.42 L496.44,308.41 L496.93,308.40 L497.41,308.38 L497.90,308.37 L498.38,308.36 L498.87,308.34 L499.35,308.33 L499.84,308.32 L500.32,308.30 L500.81,308.29 L501.29,308.28 L501.78,308.27 L502.26,308.25 L502.75,308.24 L503.23,308.23 L503.72,308.21 L504.20,308.20 L504.69,308.19 L505.17,308.18 L505.66,308.16 L506.14,308.15 L506.63,308.14 L507.11,308.13 L507.60,308.11 L508.08,308.10 L508.57,308.09 L509.05,308.08 L509.54,308.06 L510.02,308.05 L510.51,308.04 L510.99,308.03 L511.48,308.02 L511.97,308.00 L512.45,307.99 L512.94,307.98 L513.42,307.97 L513.91,307.96 L514.39,307.95 L514.88,307.93 L515.36,307.92 L515.85,307.91 L516.33,307.90 L516.82,307.89 L517.30,307.88 L517.79,307.87 L518.27,307.85 L518.76,307.84 L519.24,307.83 L519.73,307.82 L520.21,307.81 L520.70,307.80 L521.18,307.79 L521.67,307.78 L522.15,307.77 L522.64,307.76 L523.12,307.75 L523.61,307.74 L524.09,307.72 L524.58,307.71 L525.06,307.70 L525.55,307.69 L526.03,307.68 L526.52,307.67 L527.00,307.66 L527.49,307.65 L527.98,307.64 L528.46,307.63 L528.95,307.62 L529.43,307.61 L529.92,307.60 L530.40,307.59 L530.89,307.58 L531.37,307.57 L531.86,307.57 L532.34,307.56 L532.83,307.55 L533.31,307.54 L533.80,307.53 L534.28,307.52 L534.77,307.51 L535.25,307.50 L535.74,307.49 L536.22,307.48 L536.71,307.47 L537.19,307.47 L537.68,307.46 L538.16,307.45 L538.65,307.44 L539.13,307.43 L539.62,307.42 L540.10,307.41 L540.59,307.41 L541.07,307.40 L541.56,307.39 L542.04,307.38 L542.53,307.37 L543.01,307.36 L543.50,307.36 L543.99,307.35 L544.47,307.34 L544.96,307.33 L545.44,307.33 L545.93,307.32 L546.41,307.31 L546.90,307.30 L547.38,307.30 L547.87,307.29 L548.35,307.28 L548.84,307.27 L549.32,307.27 L549.81,307.26 L550.29,307.25 L550.78,307.25 L551.26,307.24 L551.75,307.23 L552.23,307.23 L552.72,307.22 L553.20,307.21 L553.69,307.21 L554.17,307.20 L554.66,307.20 L555.14,307.19 L555.63,307.18 L556.11,307.18 L556.60,307.17 L557.08,307.17 L557.57,307.16 L558.05,307.15 L558.54,307.15 L559.02,307.14 L559.51,307.14 L559.99,307.13 L560.48,307.13 L560.97,307.12 L561.45,307.12 L561.94,307.11 L562.42,307.11 L562.91,307.10 L563.39,307.10 L563.88,307.09 L564.36,307.09 L564.85,307.08 L565.33,307.08 L565.82,307.07 L566.30,307.07 L566.79,307.06 L567.27,307.06 L567.76,307.06 L568.24,307.05 L568.73,307.05 L569.21,307.04 L569.70,307.04 L570.18,307.04 L570.67,307.03 L571.15,307.03 L571.64,307.03 L572.12,307.02 L572.61,307.02 L573.09,307.02 L573.58,307.01 L574.06,307.01 L574.55,307.01 L575.03,307.00 L575.52,307.00 L576.00,307.00 L576.49,306.99 L576.98,306.99 L577.46,306.99 L577.95,306.99 L578.43,306.98 L578.92,306.98 L579.40,306.98 L579.89,306.98 L580.37,306.98 L580.86,306.97 L581.34,306.97 L581.83,306.97 L582.31,306.97 L582.80,306.97 L583.28,306.97 L583.77,306.96 L584.25,306.96 L584.74,306.96 L585.22,306.96 L585.71,306.96 L586.19,306.96 L586.68,306.96 L587.16,306.96 L587.65,306.95 L588.13,306.95 L588.62,306.95 L589.10,306.95 L589.59,306.95 L590.07,306.95 L590.56,306.95 L590.93,306.95" stroke-width="1.2" stroke="#2a2a2a" stroke-dasharray="5.5 3.42"/>
<path d="M590.93,306.95 L590.93,-1.58" stroke-width="1.2" stroke="#2a2a2a" stroke-dasharray="5.5 3.5" stroke-dashoffset="3"/>
<path d="M590.93,-1.58 L594.07,-1.58" stroke-width="1.2" stroke="#2a2a2a" stroke-dasharray="5.4 3.85" stroke-dashoffset="0.65"/>
<path d="M594.07,-1.58 L594.07,306.95" stroke-width="1.2" stroke="#2a2a2a" stroke-dasharray="5.5 3.5" stroke-dashoffset="7.47"/>
<path d="M594.07,306.95 L594.44,306.95 L594.93,306.95 L595.41,306.95 L595.90,306.95 L596.38,306.95 L596.87,306.95 L597.35,306.95 L597.84,306.96 L598.32,306.96 L598.81,306.96 L599.29,306.96 L599.78,306.96 L600.26,306.96 L600.75,306.96 L601.23,306.96 L601.72,306.97 L602.20,306.97 L602.69,306.97 L603.17,306.97 L603.66,306.97 L604.14,306.97 L604.63,306.98 L605.11,306.98 L605.60,306.98 L606.08,306.98 L606.57,306.98 L607.05,306.99 L607.54,306.99 L608.02,306.99 L608.51,306.99 L609.00,307.00 L609.48,307.00 L609.97,307.00 L610.45,307.01 L610.94,307.01 L611.42,307.01 L611.91,307.02 L612.39,307.02 L612.88,307.02 L613.36,307.03 L613.85,307.03 L614.33,307.03 L614.82,307.04 L615.30,307.04 L615.79,307.04 L616.27,307.05 L616.76,307.05 L617.24,307.06 L617.73,307.06 L618.21,307.06 L618.70,307.07 L619.18,307.07 L619.67,307.08 L620.15,307.08 L620.64,307.09 L621.12,307.09 L621.61,307.10 L622.09,307.10 L622.58,307.11 L623.06,307.11 L623.55,307.12 L624.03,307.12 L624.52,307.13 L625.01,307.13 L625.49,307.14 L625.98,307.14 L626.46,307.15 L626.95,307.15 L627.43,307.16 L627.92,307.17 L628.40,307.17 L628.89,307.18 L629.37,307.18 L629.86,307.19 L630.34,307.20 L630.83,307.20 L631.31,307.21 L631.80,307.21 L632.28,307.22 L632.77,307.23 L633.25,307.23 L633.74,307.24 L634.22,307.25 L634.71,307.25 L635.19,307.26 L635.68,307.27 L636.16,307.27 L636.65,307.28 L637.13,307.29 L637.62,307.30 L638.10,307.30 L638.59,307.31 L639.07,307.32 L639.56,307.33 L640.04,307.33 L640.53,307.34 L641.01,307.35 L641.50,307.36 L641.99,307.36 L642.47,307.37 L642.96,307.38 L643.44,307.39 L643.93,307.40 L644.41,307.41 L644.90,307.41 L645.38,307.42 L645.87,307.43 L646.35,307.44 L646.84,307.45 L647.32,307.46 L647.81,307.47 L648.29,307.47 L648.78,307.48 L649.26,307.49 L649.75,307.50 L650.23,307.51 L650.72,307.52 L651.20,307.53 L651.69,307.54 L652.17,307.55 L652.66,307.56 L653.14,307.57 L653.63,307.57 L654.11,307.58 L654.60,307.59 L655.08,307.60 L655.57,307.61 L656.05,307.62 L656.54,307.63 L657.02,307.64 L657.51,307.65 L658.00,307.66 L658.48,307.67 L658.97,307.68 L659.45,307.69 L659.94,307.70 L660.42,307.71 L660.91,307.72 L661.39,307.74 L661.88,307.75 L662.36,307.76 L662.85,307.77 L663.33,307.78 L663.82,307.79 L664.30,307.80 L664.79,307.81 L665.27,307.82 L665.76,307.83 L666.24,307.84 L666.73,307.85 L667.21,307.87 L667.70,307.88 L668.18,307.89 L668.67,307.90 L669.15,307.91 L669.64,307.92 L670.12,307.93 L670.61,307.95 L671.09,307.96 L671.58,307.97 L672.06,307.98 L672.55,307.99 L673.03,308.00 L673.52,308.02 L674.01,308.03 L674.49,308.04 L674.98,308.05 L675.46,308.06 L675.95,308.08 L676.43,308.09 L676.92,308.10 L677.40,308.11 L677.89,308.13 L678.37,308.14 L678.86,308.15 L679.34,308.16 L679.83,308.18 L680.31,308.19 L680.80,308.20 L681.28,308.21 L681.77,308.23 L682.25,308.24 L682.74,308.25 L683.22,308.27 L683.71,308.28 L684.19,308.29 L684.68,308.30 L685.16,308.32 L685.65,308.33 L686.13,308.34 L686.62,308.36 L687.10,308.37 L687.59,308.38 L688.07,308.40 L688.56,308.41 L689.04,308.42 L689.53,308.44 L690.02,308.45 L690.50,308.46 L690.99,308.48 L691.47,308.49 L691.96,308.50 L692.44,308.52 L692.93,308.53 L693.41,308.55 L693.90,308.56 L694.38,308.57 L694.87,308.59 L695.35,308.60 L695.84,308.62 L696.32,308.63 L696.81,308.64 L697.29,308.66 L697.78,308.67 L698.26,308.69 L698.75,308.70 L699.23,308.71 L699.72,308.73 L700.20,308.74 L700.69,308.76 L701.17,308.77 L701.66,308.79 L702.14,308.80 L702.63,308.81 L703.11,308.83 L703.60,308.84 L704.08,308.86 L704.57,308.87 L705.05,308.89 L705.54,308.90 L706.03,308.92 L706.51,308.93 L707.00,308.95 L707.48,308.96 L707.97,308.98 L708.45,308.99 L708.94,309.01 L709.42,309.02 L709.91,309.04 L710.39,309.05 L710.88,309.07 L711.36,309.08 L711.85,309.10 L712.33,309.11 L712.82,309.13 L713.30,309.14 L713.79,309.16 L714.27,309.17 L714.76,309.19 L715.24,309.20 L715.73,309.22 L716.21,309.23 L716.70,309.25 L717.18,309.26 L717.67,309.28 L718.15,309.29 L718.64,309.31 L719.12,309.32 L719.61,309.34 L720.09,309.35 L720.58,309.37 L721.06,309.38 L721.55,309.40 L722.04,309.42 L722.52,309.43 L723.01,309.45 L723.49,309.46 L723.98,309.48 L724.46,309.49 L724.95,309.51 L725.43,309.52 L725.92,309.54 L726.40,309.56 L726.89,309.57 L727.37,309.59 L727.86,309.60 L728.34,309.62 L728.83,309.63 L729.31,309.65 L729.80,309.67 L730.28,309.68 L730.77,309.70 L731.25,309.71 L731.74,309.73 L732.22,309.74 L732.71,309.76 L733.19,309.78 L733.68,309.79 L734.16,309.81 L734.65,309.82 L735.13,309.84 L735.62,309.86 L736.10,309.87 L736.59,309.89 L737.07,309.90 L737.56,309.92 L738.05,309.93" stroke-width="1.2" stroke="#2a2a2a" stroke-dasharray="5.5 3.54" stroke-dashoffset="1.0"/>
<path d="M446.95,315.45 L447.44,315.45 L447.93,315.45 L448.41,315.45 L448.90,315.45 L449.38,315.45 L449.87,315.45 L450.35,315.45 L450.84,315.45 L451.32,315.45 L451.81,315.45 L452.29,315.45 L452.78,315.45 L453.26,315.45 L453.75,315.45 L454.23,315.45 L454.72,315.45 L455.20,315.45 L455.69,315.45 L456.17,315.45 L456.66,315.45 L457.14,315.45 L457.63,315.45 L458.11,315.45 L458.60,315.45 L459.08,315.45 L459.57,315.45 L460.05,315.45 L460.54,315.45 L461.02,315.45 L461.51,315.45 L461.99,315.45 L462.48,315.45 L462.96,315.45 L463.45,315.45 L463.94,315.45 L464.42,315.45 L464.91,315.45 L465.39,315.45 L465.88,315.45 L466.36,315.45 L466.85,315.45 L467.33,315.45 L467.82,315.45 L468.30,315.45 L468.79,315.45 L469.27,315.45 L469.76,315.45 L470.24,315.45 L470.73,315.45 L471.21,315.45 L471.70,315.45 L472.18,315.45 L472.67,315.45 L473.15,315.45 L473.64,315.45 L474.12,315.45 L474.61,315.45 L475.09,315.45 L475.58,315.45 L476.06,315.45 L476.55,315.45 L477.03,315.45 L477.52,315.45 L478.00,315.45 L478.49,315.45 L478.97,315.45 L479.46,315.45 L479.95,315.45 L480.43,315.45 L480.92,315.45 L481.40,315.45 L481.89,315.45 L482.37,315.45 L482.86,315.45 L483.34,315.45 L483.83,315.45 L484.31,315.45 L484.80,315.45 L485.28,315.45 L485.77,315.45 L486.25,315.45 L486.74,315.45 L487.22,315.45 L487.71,315.45 L488.19,315.45 L488.68,315.45 L489.16,315.45 L489.65,315.45 L490.13,315.45 L490.62,315.45 L491.10,315.45 L491.59,315.45 L492.07,315.45 L492.56,315.45 L493.04,315.45 L493.53,315.45 L494.01,315.45 L494.50,315.45 L494.98,315.45 L495.47,315.45 L495.96,315.45 L496.44,315.45 L496.93,315.45 L497.41,315.45 L497.90,315.45 L498.38,315.45 L498.87,315.45 L499.35,315.45 L499.84,315.45 L500.32,315.45 L500.81,315.45 L501.29,315.45 L501.78,315.45 L502.26,315.45 L502.75,315.45 L503.23,315.45 L503.72,315.45 L504.20,315.45 L504.69,315.45 L505.17,315.45 L505.66,315.44 L506.14,315.44 L506.63,315.44 L507.11,315.44 L507.60,315.44 L508.08,315.44 L508.57,315.44 L509.05,315.44 L509.54,315.44 L510.02,315.44 L510.51,315.44 L510.99,315.44 L511.48,315.44 L511.97,315.43 L512.45,315.43 L512.94,315.43 L513.42,315.43 L513.91,315.43 L514.39,315.43 L514.88,315.42 L515.36,315.42 L515.85,315.42 L516.33,315.42 L516.82,315.42 L517.30,315.41 L517.79,315.41 L518.27,315.41 L518.76,315.40 L519.24,315.40 L519.73,315.39 L520.21,315.39 L520.70,315.39 L521.18,315.38 L521.67,315.38 L522.15,315.37 L522.64,315.36 L523.12,315.36 L523.61,315.35 L524.09,315.34 L524.58,315.33 L525.06,315.32 L525.55,315.32 L526.03,315.31 L526.52,315.30 L527.00,315.28 L527.49,315.27 L527.98,315.26 L528.46,315.24 L528.95,315.23 L529.43,315.21 L529.92,315.20 L530.40,315.18 L530.89,315.16 L531.37,315.14 L531.86,315.12 L532.34,315.10 L532.83,315.07 L533.31,315.05 L533.80,315.02 L534.28,314.99 L534.77,314.96 L535.25,314.93 L535.74,314.89 L536.22,314.86 L536.71,314.82 L537.19,314.78 L537.68,314.74 L538.16,314.69 L538.65,314.64 L539.13,314.59 L539.62,314.54 L540.10,314.48 L540.59,314.42 L541.07,314.36 L541.56,314.29 L542.04,314.22 L542.53,314.15 L543.01,314.07 L543.50,313.99 L543.99,313.90 L544.47,313.81 L544.96,313.72 L545.44,313.62 L545.93,313.51 L546.41,313.40 L546.90,313.28 L547.38,313.16 L547.87,313.04 L548.35,312.90 L548.84,312.76 L549.32,312.62 L549.81,312.46 L550.29,312.30 L550.78,312.13 L551.26,311.96 L551.75,311.78 L552.23,311.59 L552.72,311.39 L553.20,311.18 L553.69,310.96 L554.17,310.74 L554.66,310.50 L555.14,310.25 L555.63,310.00 L556.11,309.73 L556.60,309.46 L557.08,309.17 L557.57,308.87 L558.05,308.56 L558.54,308.24 L559.02,307.90 L559.51,307.56 L559.99,307.20 L560.48,306.82 L560.97,306.44 L561.45,306.04 L561.94,305.62 L562.42,305.20 L562.91,304.75 L563.39,304.30 L563.88,303.83 L564.36,303.34 L564.85,302.83 L565.33,302.32 L565.82,301.78 L566.30,301.23 L566.79,300.66 L567.27,300.08 L567.76,299.47 L568.24,298.86 L568.73,298.22 L569.21,297.57 L569.70,296.89 L570.18,296.20 L570.67,295.50 L571.15,294.77 L571.64,294.03 L572.12,293.27 L572.61,292.49 L573.09,291.69 L573.58,290.87 L574.06,290.04 L574.55,289.18 L575.03,288.31 L575.52,287.42 L576.00,286.52 L576.49,285.59 L576.98,284.65 L577.46,283.69 L577.95,282.71 L578.43,281.71 L578.92,280.70 L579.40,279.67 L579.89,278.63 L580.37,277.57 L580.86,276.49 L581.34,275.40 L581.83,274.29 L582.31,273.17 L582.80,272.04 L583.28,270.89 L583.77,269.73 L584.25,268.56 L584.74,267.37 L585.22,266.18 L585.71,264.97 L586.19,263.76 L586.68,262.53 L587.16,261.30 L587.65,260.06 L588.13,258.82 L588.62,257.56 L589.10,256.31 L589.59,255.05 L590.07,253.78 L590.56,252.51 L591.04,251.25 L591.53,249.98 L592.01,248.71 L592.50,247.45 L592.99,246.18 L593.47,244.92 L593.96,243.67 L594.44,242.42 L594.93,241.18 L595.41,239.94 L595.90,238.71 L596.38,237.50 L596.87,236.29 L597.35,235.10 L597.84,233.92 L598.32,232.76 L598.81,231.61 L599.29,230.48 L599.78,229.37 L600.26,228.27 L600.75,227.19 L601.23,226.14 L601.72,225.11 L602.20,224.10 L602.69,223.12 L603.17,222.16 L603.66,221.22 L604.14,220.32 L604.63,219.44 L605.11,218.59 L605.60,217.77 L606.08,216.99 L606.57,216.23 L607.05,215.51 L607.54,214.82 L608.02,214.16 L608.51,213.54 L609.00,212.96 L609.48,212.41 L609.97,211.90 L610.45,211.42 L610.94,210.99 L611.42,210.59 L611.91,210.23 L612.39,209.91 L612.88,209.63 L613.36,209.39 L613.85,209.19 L614.33,209.03 L614.82,208.91 L615.30,208.84 L615.79,208.80 L616.27,208.80 L616.76,208.85 L617.24,208.94 L617.73,209.06 L618.21,209.23 L618.70,209.44 L619.18,209.69 L619.67,209.98 L620.15,210.31 L620.64,210.67 L621.12,211.08 L621.61,211.53 L622.09,212.01 L622.58,212.53 L623.06,213.09 L623.55,213.68 L624.03,214.31 L624.52,214.97 L625.01,215.67 L625.49,216.40 L625.98,217.16 L626.46,217.96 L626.95,218.78 L627.43,219.64 L627.92,220.52 L628.40,221.43 L628.89,222.37 L629.37,223.34 L629.86,224.33 L630.34,225.34 L630.83,226.38 L631.31,227.44 L631.80,228.52 L632.28,229.62 L632.77,230.73 L633.25,231.87 L633.74,233.02 L634.22,234.19 L634.71,235.37 L635.19,236.57 L635.68,237.77 L636.16,238.99 L636.65,240.22 L637.13,241.45 L637.62,242.70 L638.10,243.95 L638.59,245.21 L639.07,246.47 L639.56,247.73 L640.04,249.00 L640.53,250.27 L641.01,251.53 L641.50,252.80 L641.99,254.07 L642.47,255.33 L642.96,256.59 L643.44,257.85 L643.93,259.10 L644.41,260.34 L644.90,261.58 L645.38,262.81 L645.87,264.03 L646.35,265.25 L646.84,266.45 L647.32,267.64 L647.81,268.82 L648.29,269.99 L648.78,271.15 L649.26,272.30 L649.75,273.43 L650.23,274.55 L650.72,275.65 L651.20,276.74 L651.69,277.81 L652.17,278.87 L652.66,279.91 L653.14,280.93 L653.63,281.94 L654.11,282.93 L654.60,283.91 L655.08,284.86 L655.57,285.80 L656.05,286.72 L656.54,287.63 L657.02,288.51 L657.51,289.38 L658.00,290.23 L658.48,291.06 L658.97,291.87 L659.45,292.66 L659.94,293.44 L660.42,294.20 L660.91,294.94 L661.39,295.66 L661.88,296.36 L662.36,297.05 L662.85,297.71 L663.33,298.36 L663.82,299.00 L664.30,299.61 L664.79,300.21 L665.27,300.79 L665.76,301.35 L666.24,301.90 L666.73,302.43 L667.21,302.95 L667.70,303.45 L668.18,303.93 L668.67,304.40 L669.15,304.86 L669.64,305.29 L670.12,305.72 L670.61,306.13 L671.09,306.53 L671.58,306.91 L672.06,307.28 L672.55,307.64 L673.03,307.98 L673.52,308.31 L674.01,308.63 L674.49,308.94 L674.98,309.23 L675.46,309.52 L675.95,309.79 L676.43,310.06 L676.92,310.31 L677.40,310.55 L677.89,310.79 L678.37,311.01 L678.86,311.23 L679.34,311.43 L679.83,311.63 L680.31,311.82 L680.80,312.00 L681.28,312.17 L681.77,312.34 L682.25,312.50 L682.74,312.65 L683.22,312.79 L683.71,312.93 L684.19,313.06 L684.68,313.19 L685.16,313.31 L685.65,313.43 L686.13,313.53 L686.62,313.64 L687.10,313.74 L687.59,313.83 L688.07,313.92 L688.56,314.01 L689.04,314.09 L689.53,314.16 L690.02,314.24 L690.50,314.31 L690.99,314.37 L691.47,314.43 L691.96,314.49 L692.44,314.55 L692.93,314.60 L693.41,314.65 L693.90,314.70 L694.38,314.75 L694.87,314.79 L695.35,314.83 L695.84,314.87 L696.32,314.90 L696.81,314.94 L697.29,314.97 L697.78,315.00 L698.26,315.03 L698.75,315.05 L699.23,315.08 L699.72,315.10 L700.20,315.12 L700.69,315.15 L701.17,315.17 L701.66,315.18 L702.14,315.20 L702.63,315.22 L703.11,315.23 L703.60,315.25 L704.08,315.26 L704.57,315.27 L705.05,315.29 L705.54,315.30 L706.03,315.31 L706.51,315.32 L707.00,315.33 L707.48,315.34 L707.97,315.34 L708.45,315.35 L708.94,315.36 L709.42,315.36 L709.91,315.37 L710.39,315.38 L710.88,315.38 L711.36,315.39 L711.85,315.39 L712.33,315.40 L712.82,315.40 L713.30,315.40 L713.79,315.41 L714.27,315.41 L714.76,315.41 L715.24,315.42 L715.73,315.42 L716.21,315.42 L716.70,315.42 L717.18,315.43 L717.67,315.43 L718.15,315.43 L718.64,315.43 L719.12,315.43 L719.61,315.43 L720.09,315.43 L720.58,315.44 L721.06,315.44 L721.55,315.44 L722.04,315.44 L722.52,315.44 L723.01,315.44 L723.49,315.44 L723.98,315.44 L724.46,315.44 L724.95,315.44 L725.43,315.44 L725.92,315.44 L726.40,315.44 L726.89,315.45 L727.37,315.45 L727.86,315.45 L728.34,315.45 L728.83,315.45 L729.31,315.45 L729.80,315.45 L730.28,315.45 L730.77,315.45 L731.25,315.45 L731.74,315.45 L732.22,315.45 L732.71,315.45 L733.19,315.45 L733.68,315.45 L734.16,315.45 L734.65,315.45 L735.13,315.45 L735.62,315.45 L736.10,315.45 L736.59,315.45 L737.07,315.45 L737.56,315.45 L738.05,315.45" stroke-width="1.2" stroke-dasharray="2.3 2.25" stroke-dashoffset="0.85" stroke="#222"/>
<path d="M436.00,315.45 L436.49,315.45 L436.98,315.45 L437.47,315.45 L437.96,315.45 L438.45,315.45 L438.93,315.45 L439.42,315.45 L439.91,315.45 L440.40,315.45 L440.89,315.45 L441.38,315.45 L441.87,315.45 L442.36,315.45 L442.85,315.45 L443.34,315.45 L443.83,315.45 L444.31,315.45 L444.80,315.45 L445.29,315.45 L445.78,315.45 L446.27,315.45 L446.76,315.45 L447.25,315.45 L447.74,315.45 L448.23,315.45 L448.72,315.45 L449.20,315.45 L449.69,315.45 L450.18,315.45 L450.67,315.45 L451.16,315.45 L451.65,315.45 L452.14,315.45 L452.63,315.45 L453.12,315.45 L453.61,315.45 L454.10,315.45 L454.58,315.45 L455.07,315.45 L455.56,315.45 L456.05,315.45 L456.54,315.45 L457.03,315.45 L457.52,315.45 L458.01,315.45 L458.50,315.45 L458.99,315.45 L459.48,315.45 L459.96,315.45 L460.45,315.45 L460.94,315.45 L461.43,315.45 L461.92,315.45 L462.41,315.45 L462.90,315.45 L463.39,315.45 L463.88,315.45 L464.37,315.45 L464.85,315.45 L465.34,315.45 L465.83,315.45 L466.32,315.45 L466.81,315.45 L467.30,315.45 L467.79,315.45 L468.28,315.45 L468.77,315.45 L469.26,315.45 L469.75,315.45 L470.23,315.45 L470.72,315.45 L471.21,315.45 L471.70,315.45 L472.19,315.45 L472.68,315.45 L473.17,315.45 L473.66,315.45 L474.15,315.45 L474.64,315.45 L475.12,315.45 L475.61,315.45 L476.10,315.45 L476.59,315.45 L477.08,315.45 L477.57,315.45 L478.06,315.45 L478.55,315.45 L479.04,315.45 L479.53,315.45 L480.02,315.45 L480.50,315.45 L480.99,315.45 L481.48,315.45 L481.97,315.45 L482.46,315.45 L482.95,315.45 L483.44,315.45 L483.93,315.45 L484.42,315.45 L484.91,315.45 L485.40,315.45 L485.88,315.45 L486.37,315.45 L486.86,315.45 L487.35,315.45 L487.84,315.45 L488.33,315.45 L488.82,315.45 L489.31,315.45 L489.80,315.45 L490.29,315.45 L490.78,315.45 L491.26,315.45 L491.75,315.45 L492.24,315.45 L492.73,315.45 L493.22,315.45 L493.71,315.45 L494.20,315.45 L494.69,315.45 L495.18,315.45 L495.67,315.45 L496.15,315.45 L496.64,315.45 L497.13,315.45 L497.62,315.45 L498.11,315.45 L498.60,315.45 L499.09,315.45 L499.58,315.45 L500.07,315.45 L500.56,315.45 L501.05,315.45 L501.53,315.45 L502.02,315.45 L502.51,315.45 L503.00,315.45 L503.49,315.45 L503.98,315.45 L504.47,315.45 L504.96,315.45 L505.45,315.45 L505.94,315.45 L506.43,315.45 L506.91,315.45 L507.40,315.45 L507.89,315.45 L508.38,315.45 L508.87,315.45 L509.36,315.45 L509.85,315.45 L510.34,315.45 L510.83,315.45 L511.32,315.45 L511.80,315.45 L512.29,315.45 L512.78,315.45 L513.27,315.45 L513.76,315.45 L514.25,315.45 L514.74,315.45 L515.23,315.45 L515.72,315.44 L516.21,315.44 L516.70,315.44 L517.18,315.44 L517.67,315.44 L518.16,315.44 L518.65,315.44 L519.14,315.44 L519.63,315.44 L520.12,315.44 L520.61,315.44 L521.10,315.44 L521.59,315.44 L522.08,315.44 L522.56,315.43 L523.05,315.43 L523.54,315.43 L524.03,315.43 L524.52,315.43 L525.01,315.43 L525.50,315.43 L525.99,315.42 L526.48,315.42 L526.97,315.42 L527.45,315.42 L527.94,315.41 L528.43,315.41 L528.92,315.41 L529.41,315.41 L529.90,315.40 L530.39,315.40 L530.88,315.40 L531.37,315.39 L531.86,315.39 L532.35,315.38 L532.83,315.38 L533.32,315.37 L533.81,315.37 L534.30,315.36 L534.79,315.36 L535.28,315.35 L535.77,315.34 L536.26,315.34 L536.75,315.33 L537.24,315.32 L537.73,315.31 L538.21,315.30 L538.70,315.29 L539.19,315.28 L539.68,315.27 L540.17,315.26 L540.66,315.25 L541.15,315.24 L541.64,315.23 L542.13,315.21 L542.62,315.20 L543.10,315.18 L543.59,315.17 L544.08,315.15 L544.57,315.13 L545.06,315.11 L545.55,315.09 L546.04,315.07 L546.53,315.05 L547.02,315.02 L547.51,315.00 L548.00,314.97 L548.48,314.95 L548.97,314.92 L549.46,314.89 L549.95,314.86 L550.44,314.83 L550.93,314.79 L551.42,314.76 L551.91,314.72 L552.40,314.68 L552.89,314.64 L553.38,314.60 L553.86,314.55 L554.35,314.51 L554.84,314.46 L555.33,314.41 L555.82,314.36 L556.31,314.30 L556.80,314.25 L557.29,314.19 L557.78,314.13 L558.27,314.06 L558.75,314.00 L559.24,313.93 L559.73,313.86 L560.22,313.78 L560.71,313.71 L561.20,313.63 L561.69,313.54 L562.18,313.46 L562.67,313.37 L563.16,313.28 L563.65,313.18 L564.13,313.09 L564.62,312.99 L565.11,312.88 L565.60,312.77 L566.09,312.66 L566.58,312.55 L567.07,312.43 L567.56,312.31 L568.05,312.19 L568.54,312.06 L569.02,311.92 L569.51,311.79 L570.00,311.65 L570.49,311.51 L570.98,311.36 L571.47,311.21 L571.96,311.05 L572.45,310.90 L572.94,310.73 L573.43,310.57 L573.92,310.40 L574.40,310.23 L574.89,310.05 L575.38,309.87 L575.87,309.68 L576.36,309.49 L576.85,309.30 L577.34,309.11 L577.83,308.91 L578.32,308.70 L578.81,308.50 L579.30,308.29 L579.78,308.07 L580.27,307.86 L580.76,307.64 L581.25,307.41 L581.74,307.19 L582.23,306.96 L582.72,306.73 L583.21,306.49 L583.70,306.25 L584.19,306.01 L584.67,305.77 L585.16,305.53 L585.65,305.28 L586.14,305.03 L586.63,304.78 L587.12,304.53 L587.61,304.28 L588.10,304.02 L588.59,303.76 L589.08,303.51 L589.57,303.25 L590.05,302.99 L590.54,302.73 L590.93,302.53 L590.93,-5.80 L590.93,-5.80 L590.95,-5.80 L590.97,-5.80 L590.98,-5.80 L591.00,-5.80 L591.01,-5.80 L591.03,-5.80 L591.04,-5.80 L591.06,-5.80 L591.08,-5.80 L591.09,-5.80 L591.11,-5.80 L591.12,-5.80 L591.14,-5.80 L591.15,-5.80 L591.17,-5.80 L591.19,-5.80 L591.20,-5.80 L591.22,-5.80 L591.23,-5.80 L591.25,-5.80 L591.26,-5.80 L591.28,-5.80 L591.29,-5.80 L591.31,-5.80 L591.33,-5.80 L591.34,-5.80 L591.36,-5.80 L591.37,-5.80 L591.39,-5.80 L591.40,-5.80 L591.42,-5.80 L591.44,-5.80 L591.45,-5.80 L591.47,-5.80 L591.48,-5.80 L591.50,-5.80 L591.51,-5.80 L591.53,-5.80 L591.55,-5.80 L591.56,-5.80 L591.58,-5.80 L591.59,-5.80 L591.61,-5.80 L591.62,-5.80 L591.64,-5.80 L591.65,-5.80 L591.67,-5.80 L591.69,-5.80 L591.70,-5.80 L591.72,-5.80 L591.73,-5.80 L591.75,-5.80 L591.76,-5.80 L591.78,-5.80 L591.80,-5.80 L591.81,-5.80 L591.83,-5.80 L591.84,-5.80 L591.86,-5.80 L591.87,-5.80 L591.89,-5.80 L591.91,-5.80 L591.92,-5.80 L591.94,-5.80 L591.95,-5.80 L591.97,-5.80 L591.98,-5.80 L592.00,-5.80 L592.01,-5.80 L592.03,-5.80 L592.05,-5.80 L592.06,-5.80 L592.08,-5.80 L592.09,-5.80 L592.11,-5.80 L592.12,-5.80 L592.14,-5.80 L592.16,-5.80 L592.17,-5.80 L592.19,-5.80 L592.20,-5.80 L592.22,-5.80 L592.23,-5.80 L592.25,-5.80 L592.27,-5.80 L592.28,-5.80 L592.30,-5.80 L592.31,-5.80 L592.33,-5.80 L592.34,-5.80 L592.36,-5.80 L592.37,-5.80 L592.39,-5.80 L592.41,-5.80 L592.42,-5.80 L592.44,-5.80 L592.45,-5.80 L592.47,-5.80 L592.48,-5.80 L592.50,-5.80 L592.52,-5.80 L592.53,-5.80 L592.55,-5.80 L592.56,-5.80 L592.58,-5.80 L592.59,-5.80 L592.61,-5.80 L592.63,-5.80 L592.64,-5.80 L592.66,-5.80 L592.67,-5.80 L592.69,-5.80 L592.70,-5.80 L592.72,-5.80 L592.73,-5.80 L592.75,-5.80 L592.77,-5.80 L592.78,-5.80 L592.80,-5.80 L592.81,-5.80 L592.83,-5.80 L592.84,-5.80 L592.86,-5.80 L592.88,-5.80 L592.89,-5.80 L592.91,-5.80 L592.92,-5.80 L592.94,-5.80 L592.95,-5.80 L592.97,-5.80 L592.99,-5.80 L593.00,-5.80 L593.02,-5.80 L593.03,-5.80 L593.05,-5.80 L593.06,-5.80 L593.08,-5.80 L593.09,-5.80 L593.11,-5.80 L593.13,-5.80 L593.14,-5.80 L593.16,-5.80 L593.17,-5.80 L593.19,-5.80 L593.20,-5.80 L593.22,-5.80 L593.24,-5.80 L593.25,-5.80 L593.27,-5.80 L593.28,-5.80 L593.30,-5.80 L593.31,-5.80 L593.33,-5.80 L593.35,-5.80 L593.36,-5.80 L593.38,-5.80 L593.39,-5.80 L593.41,-5.80 L593.42,-5.80 L593.44,-5.80 L593.45,-5.80 L593.47,-5.80 L593.49,-5.80 L593.50,-5.80 L593.52,-5.80 L593.53,-5.80 L593.55,-5.80 L593.56,-5.80 L593.58,-5.80 L593.60,-5.80 L593.61,-5.80 L593.63,-5.80 L593.64,-5.80 L593.66,-5.80 L593.67,-5.80 L593.69,-5.80 L593.71,-5.80 L593.72,-5.80 L593.74,-5.80 L593.75,-5.80 L593.77,-5.80 L593.78,-5.80 L593.80,-5.80 L593.81,-5.80 L593.83,-5.80 L593.85,-5.80 L593.86,-5.80 L593.88,-5.80 L593.89,-5.80 L593.91,-5.80 L593.92,-5.80 L593.94,-5.80 L593.96,-5.80 L593.97,-5.80 L593.99,-5.80 L594.00,-5.80 L594.02,-5.80 L594.03,-5.80 L594.05,-5.80 L594.07,-5.80 L594.07,-5.80 L594.07,300.88 L594.46,300.67 L594.95,300.42 L595.43,300.17 L595.92,299.92 L596.41,299.68 L596.90,299.43 L597.39,299.19 L597.88,298.95 L598.37,298.72 L598.86,298.49 L599.35,298.26 L599.84,298.03 L600.33,297.81 L600.81,297.60 L601.30,297.39 L601.79,297.18 L602.28,296.98 L602.77,296.78 L603.26,296.59 L603.75,296.41 L604.24,296.23 L604.73,296.06 L605.22,295.89 L605.70,295.73 L606.19,295.58 L606.68,295.43 L607.17,295.29 L607.66,295.16 L608.15,295.04 L608.64,294.92 L609.13,294.81 L609.62,294.71 L610.11,294.61 L610.60,294.53 L611.08,294.45 L611.57,294.38 L612.06,294.32 L612.55,294.26 L613.04,294.22 L613.53,294.18 L614.02,294.15 L614.51,294.13 L615.00,294.12 L615.49,294.12 L615.98,294.12 L616.46,294.14 L616.95,294.16 L617.44,294.19 L617.93,294.23 L618.42,294.28 L618.91,294.34 L619.40,294.40 L619.89,294.47 L620.38,294.56 L620.87,294.64 L621.35,294.74 L621.84,294.85 L622.33,294.96 L622.82,295.08 L623.31,295.21 L623.80,295.34 L624.29,295.48 L624.78,295.63 L625.27,295.79 L625.76,295.95 L626.25,296.12 L626.73,296.29 L627.22,296.47 L627.71,296.66 L628.20,296.85 L628.69,297.05 L629.18,297.25 L629.67,297.46 L630.16,297.67 L630.65,297.89 L631.14,298.11 L631.62,298.34 L632.11,298.56 L632.60,298.80 L633.09,299.03 L633.58,299.27 L634.07,299.51 L634.56,299.76 L635.05,300.01 L635.54,300.26 L636.03,300.51 L636.52,300.76 L637.00,301.02 L637.49,301.27 L637.98,301.53 L638.47,301.79 L638.96,302.04 L639.45,302.30 L639.94,302.56 L640.43,302.82 L640.92,303.08 L641.41,303.34 L641.90,303.59 L642.38,303.85 L642.87,304.11 L643.36,304.36 L643.85,304.61 L644.34,304.87 L644.83,305.12 L645.32,305.36 L645.81,305.61 L646.30,305.85 L646.79,306.10 L647.27,306.33 L647.76,306.57 L648.25,306.81 L648.74,307.04 L649.23,307.26 L649.72,307.49 L650.21,307.71 L650.70,307.93 L651.19,308.15 L651.68,308.36 L652.17,308.57 L652.65,308.77 L653.14,308.97 L653.63,309.17 L654.12,309.37 L654.61,309.56 L655.10,309.75 L655.59,309.93 L656.08,310.11 L656.57,310.29 L657.06,310.46 L657.55,310.63 L658.03,310.79 L658.52,310.95 L659.01,311.11 L659.50,311.26 L659.99,311.41 L660.48,311.56 L660.97,311.70 L661.46,311.84 L661.95,311.97 L662.44,312.10 L662.93,312.23 L663.41,312.35 L663.90,312.47 L664.39,312.59 L664.88,312.70 L665.37,312.81 L665.86,312.92 L666.35,313.02 L666.84,313.12 L667.33,313.22 L667.82,313.31 L668.30,313.40 L668.79,313.49 L669.28,313.57 L669.77,313.65 L670.26,313.73 L670.75,313.81 L671.24,313.88 L671.73,313.95 L672.22,314.02 L672.71,314.08 L673.20,314.15 L673.68,314.21 L674.17,314.27 L674.66,314.32 L675.15,314.38 L675.64,314.43 L676.13,314.48 L676.62,314.52 L677.11,314.57 L677.60,314.61 L678.09,314.65 L678.58,314.69 L679.06,314.73 L679.55,314.77 L680.04,314.80 L680.53,314.84 L681.02,314.87 L681.51,314.90 L682.00,314.93 L682.49,314.96 L682.98,314.98 L683.47,315.01 L683.95,315.03 L684.44,315.06 L684.93,315.08 L685.42,315.10 L685.91,315.12 L686.40,315.14 L686.89,315.15 L687.38,315.17 L687.87,315.19 L688.36,315.20 L688.85,315.22 L689.33,315.23 L689.82,315.24 L690.31,315.26 L690.80,315.27 L691.29,315.28 L691.78,315.29 L692.27,315.30 L692.76,315.31 L693.25,315.32 L693.74,315.32 L694.23,315.33 L694.71,315.34 L695.20,315.35 L695.69,315.35 L696.18,315.36 L696.67,315.37 L697.16,315.37 L697.65,315.38 L698.14,315.38 L698.63,315.39 L699.12,315.39 L699.60,315.39 L700.09,315.40 L700.58,315.40 L701.07,315.40 L701.56,315.41 L702.05,315.41 L702.54,315.41 L703.03,315.42 L703.52,315.42 L704.01,315.42 L704.50,315.42 L704.98,315.42 L705.47,315.43 L705.96,315.43 L706.45,315.43 L706.94,315.43 L707.43,315.43 L707.92,315.43 L708.41,315.43 L708.90,315.44 L709.39,315.44 L709.88,315.44 L710.36,315.44 L710.85,315.44 L711.34,315.44 L711.83,315.44 L712.32,315.44 L712.81,315.44 L713.30,315.44 L713.79,315.44 L714.28,315.44 L714.77,315.44 L715.25,315.44 L715.74,315.45 L716.23,315.45 L716.72,315.45 L717.21,315.45 L717.70,315.45 L718.19,315.45 L718.68,315.45 L719.17,315.45 L719.66,315.45 L720.15,315.45 L720.63,315.45 L721.12,315.45 L721.61,315.45 L722.10,315.45 L722.59,315.45 L723.08,315.45 L723.57,315.45 L724.06,315.45 L724.55,315.45 L725.04,315.45 L725.52,315.45 L726.01,315.45 L726.50,315.45 L726.99,315.45 L727.48,315.45 L727.97,315.45 L728.46,315.45 L728.95,315.45 L729.44,315.45 L729.93,315.45 L730.42,315.45 L730.90,315.45 L731.39,315.45 L731.88,315.45 L732.37,315.45 L732.86,315.45 L733.35,315.45 L733.84,315.45 L734.33,315.45 L734.82,315.45 L735.31,315.45 L735.80,315.45 L736.28,315.45 L736.77,315.45 L737.26,315.45 L737.75,315.45 L738.24,315.45 L738.73,315.45 L739.22,315.45 L739.71,315.45 L740.20,315.45 L740.69,315.45 L741.18,315.45 L741.66,315.45 L742.15,315.45 L742.64,315.45 L743.13,315.45 L743.62,315.45 L744.11,315.45 L744.60,315.45 L745.09,315.45 L745.58,315.45 L746.07,315.45 L746.55,315.45 L747.04,315.45 L747.53,315.45 L748.02,315.45 L748.51,315.45 L749.00,315.45" stroke-width="2.1" stroke="#111" stroke-linejoin="round"/>
</g>
<text transform="translate(11.2,167.5) rotate(-90)" text-anchor="middle" font-size="14.95" fill="#222">Density</text>
<rect x="158.05" y="384.5" width="435.95" height="35.90" fill="#fff" stroke="#222" stroke-width="1.1"/>
<path d="M171,402.6 H222" stroke="#333" stroke-width="1.2" stroke-dasharray="5.5 3.5" fill="none"/>
<path d="M313.8,402.6 H366.3" stroke="#222" stroke-width="1.2" stroke-dasharray="2.3 2.25" fill="none"/>
<path d="M456.8,402.6 H512.7" stroke="#111" stroke-width="2.1" fill="none"/>
<g font-size="14.8" fill="#222">
<text x="239.2" y="408.4">prior</text>
<text x="382.6" y="408.4">likelihood</text>
<text x="525.2" y="408.4">posterior</text>
</g>
</svg>
</body></html>
